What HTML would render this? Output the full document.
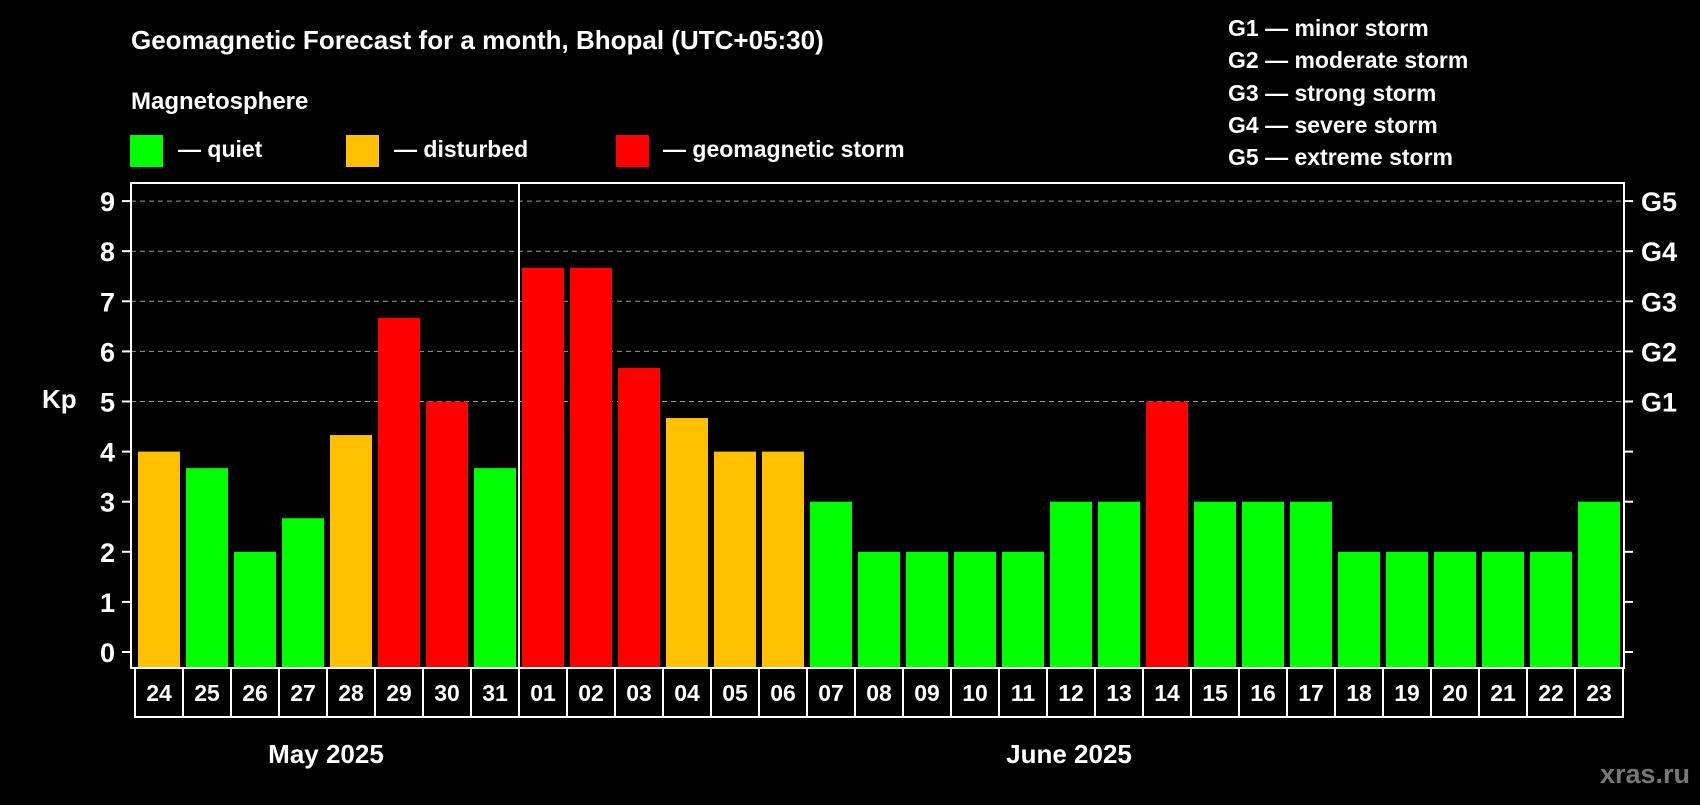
<!DOCTYPE html>
<html><head><meta charset="utf-8"><style>
body{margin:0;background:#000;width:1700px;height:800px;overflow:hidden;font-family:"Liberation Sans",Arial,sans-serif}
svg text{font-family:"Liberation Sans",Arial,sans-serif;font-weight:bold;fill:#fff}
</style></head><body>
<svg id="chart" width="1700" height="800" xmlns="http://www.w3.org/2000/svg">
<text x="131" y="49" font-size="26">Geomagnetic Forecast for a month, Bhopal (UTC+05:30)</text>
<text x="131" y="109" font-size="24">Magnetosphere</text>
<g><rect x="130" y="135" width="33" height="32" fill="#00ff00"/><text x="178" y="157" font-size="23">— quiet</text></g>
<g><rect x="346" y="135" width="33" height="32" fill="#ffc000"/><text x="394" y="157" font-size="23">— disturbed</text></g>
<g><rect x="616" y="135" width="33" height="32" fill="#ff0000"/><text x="663" y="157" font-size="23">— geomagnetic storm</text></g>
<g font-size="23">
<text x="1228" y="36">G1 — minor storm</text>
<text x="1228" y="68">G2 — moderate storm</text>
<text x="1228" y="101">G3 — strong storm</text>
<text x="1228" y="133">G4 — severe storm</text>
<text x="1228" y="165">G5 — extreme storm</text>
</g>
<text x="42" y="408" font-size="26">Kp</text>
<g id="grid"></g><g id="bars"></g><g id="axes"></g><g id="dates"></g>
<text x="326" y="763" font-size="26" text-anchor="middle">May 2025</text>
<text x="1069" y="763" font-size="26" text-anchor="middle">June 2025</text>
<text x="1690" y="783" font-size="27" text-anchor="end" style="fill:#777">xras.ru</text>
</svg>
<script>
const days=["24","25","26","27","28","29","30","31","01","02","03","04","05","06","07","08","09","10","11","12","13","14","15","16","17","18","19","20","21","22","23"];
const kp=[4,3.67,2,2.67,4.33,6.67,5,3.67,7.67,7.67,5.67,4.67,4,4,3,2,2,2,2,3,3,5,3,3,3,2,2,2,2,2,3];
const yTicks=[0,1,2,3,4,5,6,7,8,9];
const gLabels=["G1","G2","G3","G4","G5"];
const gLevels=[5,6,7,8,9];
const NS="http://www.w3.org/2000/svg";
const L=131,R=1624,T=183,B=668,boxL=135,pitch=48,y0=652,unit=50.1;
const y=v=>y0-v*unit, xb=i=>boxL+i*pitch;
function mk(t,a,p){const e=document.createElementNS(NS,t);for(const k in a)e.setAttribute(k,a[k]);document.getElementById(p).appendChild(e);return e;}
gLevels.forEach(v=>{const e=mk('line',{x1:L,x2:R,y1:y(v),y2:y(v),stroke:'#999','stroke-width':1,'stroke-dasharray':'5,4'},'grid');

});
kp.forEach((v,i)=>{const c=v<4?'#00ff00':(v<5?'#ffc000':'#ff0000');
const e=mk('rect',{x:xb(i)+3,y:y(v),width:42,height:B-y(v),fill:c},'bars');

});
const f=mk('rect',{x:L,y:T,width:R-L,height:B-T,fill:'none',stroke:'#fff','stroke-width':2},'axes');


const d=mk('line',{x1:xb(8),x2:xb(8),y1:T,y2:B,stroke:'#fff','stroke-width':2},'axes');


yTicks.forEach(v=>{const t=mk('line',{x1:L-9,x2:L,y1:y(v),y2:y(v),stroke:'#fff','stroke-width':2},'axes');


const t2=mk('line',{x1:R,x2:R+9,y1:y(v),y2:y(v),stroke:'#fff','stroke-width':2},'axes');


const l=mk('text',{x:115,y:y(v)+10,'font-size':27,'text-anchor':'end'},'axes');l.textContent=v;

});
gLevels.forEach((v,i)=>{const l=mk('text',{x:1641,y:y(v)+10,'font-size':27},'axes');l.textContent=gLabels[i];

});
days.forEach((s,i)=>{const r=mk('rect',{x:xb(i),y:B,width:pitch,height:49,fill:'none',stroke:'#fff','stroke-width':2},'dates');


const t=mk('text',{x:xb(i)+pitch/2,y:B+33,'font-size':23,'text-anchor':'middle'},'dates');t.textContent=s;

});
</script>
</body></html>
